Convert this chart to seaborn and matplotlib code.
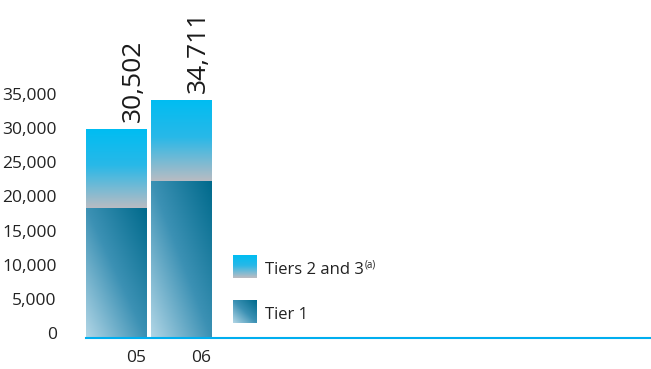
import numpy as np
import pandas as pd
import matplotlib
matplotlib.use("Agg")
import matplotlib.pyplot as plt
import matplotlib.transforms as mtransforms
from matplotlib.ticker import FuncFormatter
import seaborn as sns

years = ["05", "06"]
tier1 = [18900, 22850]
totals = [30502, 34711]
tier23 = [t - a for t, a in zip(totals, tier1)]
total_labels = ["30,502", "34,711"]
legend_labels = ["Tiers 2 and 3", "Tier 1"]
yticks = [0, 5000, 10000, 15000, 20000, 25000, 30000, 35000]

sns.set_theme(style="white")
plt.rcParams["font.family"] = ["Open Sans", "DejaVu Sans"]

W, H = 651, 369
fig = plt.figure(figsize=(W / 100, H / 100), dpi=100)
px_per_k = 6.83
ymax = 48000
ax_h = ymax / 1000 * px_per_k
ax = fig.add_axes([86 / W, (H - 338) / H, (651 - 86) / W, ax_h / H])

df = pd.DataFrame({"year": years, "total": totals, "tier1": tier1})
bw = 0.945
sns.barplot(data=df, x="year", y="total", width=bw, color="#00BDF2", ax=ax, linewidth=0)
sns.barplot(data=df, x="year", y="tier1", width=bw, color="#006E8F", ax=ax, linewidth=0)

ax.set_xlim(-bw / 2, -bw / 2 + 565 / 64.5)
ax.set_ylim(0, ymax)


def grad_upper(h, w):
    v = np.linspace(0, 1, h)[:, None] * np.ones((1, w))
    top = np.array([0, 189, 242]) / 255
    mid = np.array([40, 184, 232]) / 255
    bot = np.array([188, 188, 194]) / 255
    img = np.zeros((h, w, 3))
    for c in range(3):
        img[..., c] = np.interp(v, [0, 0.45, 1.0], [top[c], mid[c], bot[c]])
    return img


def grad_lower(h, w):
    v = np.linspace(0, 1, h)[:, None]
    u = np.linspace(0, 1, w)[None, :]
    t = ((1 - u) + v) / 2
    dark = np.array([0, 106, 140]) / 255
    midc = np.array([60, 145, 180]) / 255
    light = np.array([178, 214, 230]) / 255
    img = np.zeros((h, w, 3))
    for c in range(3):
        img[..., c] = np.interp(t, [0, 0.5, 1.0], [dark[c], midc[c], light[c]])
    return img


patches = list(ax.patches)
n = len(years)
for i, p in enumerate(patches):
    x0, y0 = p.get_x(), p.get_y()
    w, h = p.get_width(), p.get_height()
    if i < n:
        lower = tier1[i]
        img = grad_upper(200, 20)
        ext = (x0, x0 + w, lower, y0 + h)
    else:
        img = grad_lower(200, 60)
        ext = (x0, x0 + w, y0, y0 + h)
    p.set_facecolor("none")
    ax.imshow(img, extent=ext, aspect="auto", origin="upper", zorder=2,
              interpolation="bilinear")
ax.set_xlim(-bw / 2, -bw / 2 + 565 / 64.5)
ax.set_ylim(0, ymax)

# total labels
for i, lab in enumerate(total_labels):
    ax.annotate(lab, xy=(i, totals[i]), xytext=(17, 8), textcoords="offset pixels",
                rotation=90, ha="center", va="bottom", fontsize=19, color="#1a1a1a")

for s in ["top", "right", "left"]:
    ax.spines[s].set_visible(False)
ax.spines["bottom"].set_color("#00AEEF")
ax.spines["bottom"].set_linewidth(1.5)

ax.set_yticks(yticks)
ax.yaxis.set_major_formatter(FuncFormatter(lambda v, p: f"{int(v):,}"))
ax.tick_params(axis="y", length=0, pad=21, labelsize=12.5, labelcolor="#222222")
ax.tick_params(axis="x", length=0, pad=9, labelsize=12.5, labelcolor="#222222")
ax.set_xlabel("")
ax.set_ylabel("")

off_y = mtransforms.ScaledTranslation(0, 5 / 100, fig.dpi_scale_trans)
for t in ax.get_yticklabels():
    t.set_transform(t.get_transform() + off_y)
off_x = mtransforms.ScaledTranslation(20 / 100, 0, fig.dpi_scale_trans)
for t in ax.get_xticklabels():
    t.set_transform(t.get_transform() + off_x)

# legend swatches
sw1 = fig.add_axes([233 / W, (H - 278) / H, 24 / W, 23 / H])
sw1.imshow(grad_upper(50, 10), aspect="auto", interpolation="bilinear")
sw1.axis("off")
sw2 = fig.add_axes([233 / W, (H - 323) / H, 24 / W, 23 / H])
sw2.imshow(grad_lower(50, 50), aspect="auto", interpolation="bilinear")
sw2.axis("off")

t1 = fig.text(265 / W, (H - 270) / H, legend_labels[0], fontsize=12, color="#222222",
              ha="left", va="center")
fig.canvas.draw()
bb = t1.get_window_extent()
fig.text((bb.x1 + 1) / W, (H - 265) / H, "(a)", fontsize=7, color="#222222",
         ha="left", va="center")
fig.text(265 / W, (H - 315) / H, legend_labels[1], fontsize=12, color="#222222",
         ha="left", va="center")

fig.savefig("out.png", dpi=100)
